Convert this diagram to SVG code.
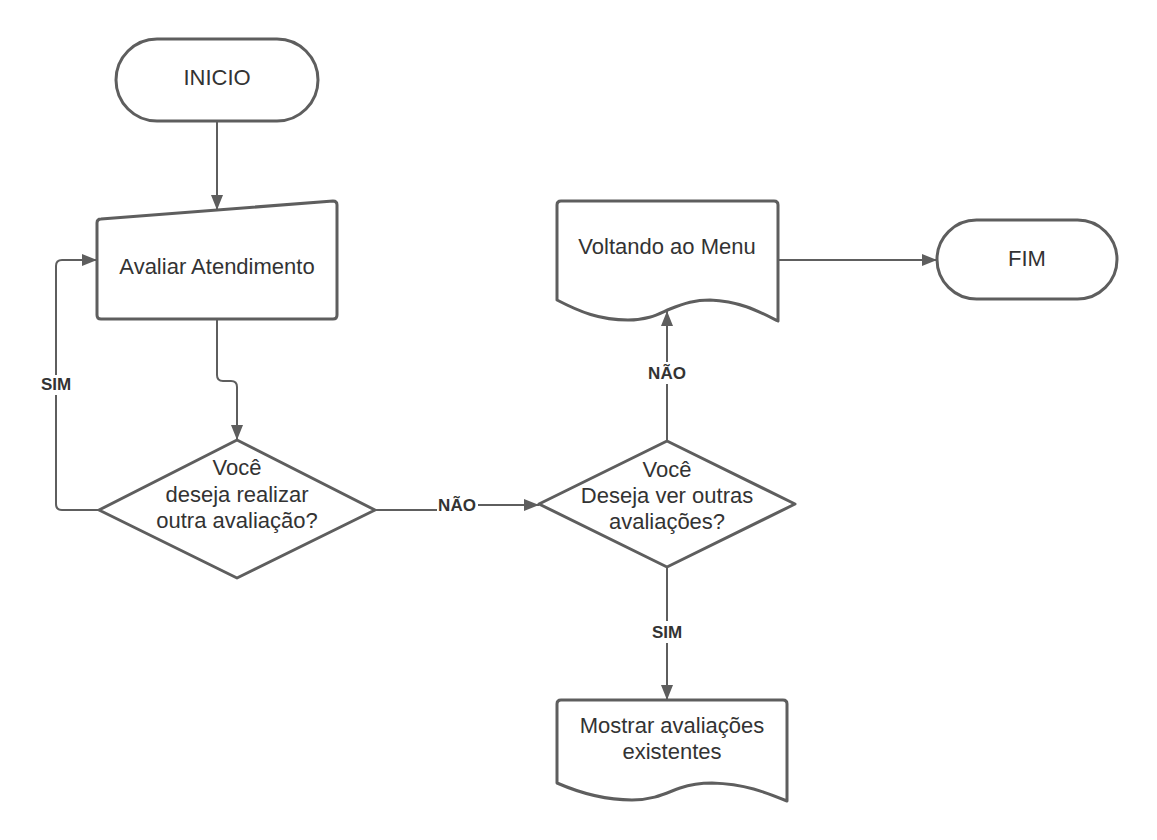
<svg xmlns="http://www.w3.org/2000/svg" width="1157" height="840" viewBox="0 0 1157 840">
<style>
.shape{fill:#ffffff;stroke:#5e5e5e;stroke-width:3;stroke-linejoin:round}
.conn{fill:none;stroke:#5e5e5e;stroke-width:2}
.t{font-family:"Liberation Sans",Arial,sans-serif;font-size:22px;fill:#333333;text-anchor:middle}
.lbl{font-family:"Liberation Sans",Arial,sans-serif;font-size:17px;font-weight:bold;fill:#333333;text-anchor:middle}
.bg{fill:#ffffff}
</style>
<defs>
<marker id="arr" markerWidth="16" markerHeight="12" refX="15" refY="6" orient="auto" markerUnits="userSpaceOnUse">
<path d="M0,0 L15,6 L0,12 z" fill="#5e5e5e"/>
</marker>
</defs>
<rect width="1157" height="840" fill="#ffffff"/>
<g id="connectors">
<path class="conn" d="M217,121 V210" marker-end="url(#arr)"/>
<path class="conn" d="M217,319 V375 Q217,381 223,381 H231 Q237,381 237,387 V440" marker-end="url(#arr)"/>
<path class="conn" d="M99,510 H62 Q56,510 56,504 V266 Q56,260 62,260 H97" marker-end="url(#arr)"/>
<path class="conn" d="M375,510 H457 V505 H539" marker-end="url(#arr)"/>
<path class="conn" d="M667,441 V311" marker-end="url(#arr)"/>
<path class="conn" d="M667,567 V700" marker-end="url(#arr)"/>
<path class="conn" d="M778,260 H937" marker-end="url(#arr)"/>
<rect class="bg" x="38" y="375" width="38" height="20"/>
<text class="lbl" x="56" y="390">SIM</text>
<rect class="bg" x="437" y="496" width="41" height="20"/>
<text class="lbl" x="457" y="511">NÃO</text>
<rect class="bg" x="646" y="362" width="42" height="22"/>
<text class="lbl" x="667" y="379">NÃO</text>
<rect class="bg" x="648" y="621" width="38" height="22"/>
<text class="lbl" x="667" y="638">SIM</text>
</g>
<g id="inicio">
<rect class="shape" x="116" y="39" width="202" height="82" rx="41" ry="41"/>
<text class="t" x="217" y="85">INICIO</text>
</g>
<g id="avaliar">
<path class="shape" d="M101,219 L333,201 Q337,201 337,205 V315 Q337,319 333,319 H101 Q97,319 97,315 V223 Q97,219 101,219 z"/>
<text class="t" x="217" y="274">Avaliar Atendimento</text>
</g>
<g id="decisao1">
<path class="shape" d="M237,440 L375,510 L237,578 L99,510 z"/>
<text class="t" x="237" y="475">Você</text>
<text class="t" x="237" y="502">deseja realizar</text>
<text class="t" x="237" y="528">outra avaliação?</text>
</g>
<g id="decisao2">
<path class="shape" d="M667,441 L795,504 L667,567 L539,504 z"/>
<text class="t" x="667" y="477">Você</text>
<text class="t" x="667" y="503">Deseja ver outras</text>
<text class="t" x="667" y="529">avaliações?</text>
</g>
<g id="voltando">
<path class="shape" d="M557,300 C580,312 600,320 628,320 C650,320 660,313 670,309 C685,303 695,300 710,300 C740,301 760,312 778,321 V205 Q778,201 774,201 H561 Q557,201 557,205 z"/>
<text class="t" x="667" y="254">Voltando ao Menu</text>
</g>
<g id="fim">
<rect class="shape" x="937" y="220" width="180" height="79" rx="39.5" ry="39.5"/>
<text class="t" x="1027" y="266">FIM</text>
</g>
<g id="mostrar">
<path class="shape" d="M557,783 C580,793 605,800 632,800 C655,800 668,792 680,788 C692,784 700,783 712,783 C745,784 765,792 787,801 V704 Q787,700 783,700 H561 Q557,700 557,704 z"/>
<text class="t" x="672" y="733">Mostrar avaliações</text>
<text class="t" x="672" y="759">existentes</text>
</g>
</svg>
